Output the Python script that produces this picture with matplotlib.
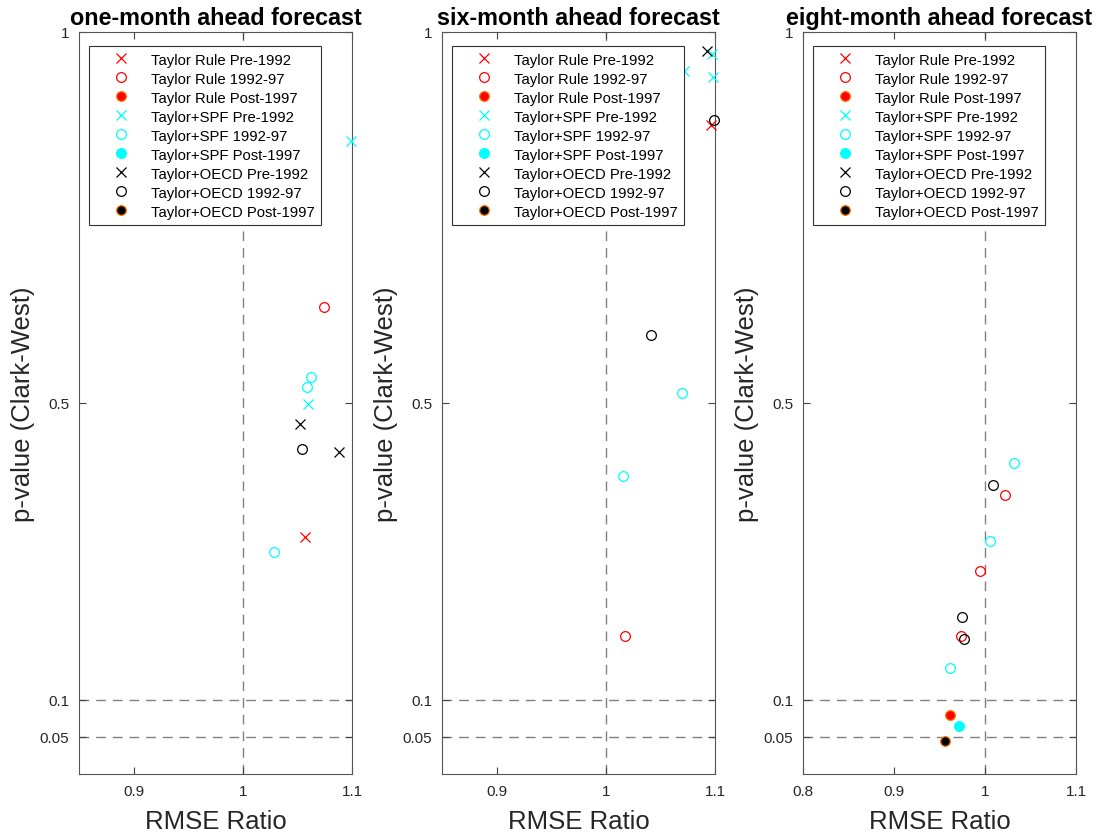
import matplotlib
matplotlib.use("Agg")
import matplotlib.pyplot as plt

plt.rcParams['font.family'] = ['Liberation Sans', 'DejaVu Sans']

# ---------------- data ----------------
titles = ["one-month ahead forecast", "six-month ahead forecast", "eight-month ahead forecast"]
series_labels = ["Taylor Rule Pre-1992", "Taylor Rule 1992-97", "Taylor Rule Post-1997",
                 "Taylor+SPF Pre-1992", "Taylor+SPF 1992-97", "Taylor+SPF Post-1997",
                 "Taylor+OECD Pre-1992", "Taylor+OECD 1992-97", "Taylor+OECD Post-1997"]

# Panel 1: one-month ahead
p1_tr_pre_x = [1.057]; p1_tr_pre_y = [0.320]
p1_tr_mid_x = [1.074]; p1_tr_mid_y = [0.629]
p1_tr_post_x = []; p1_tr_post_y = []
p1_spf_pre_x = [1.099, 1.060]; p1_spf_pre_y = [0.853, 0.499]
p1_spf_mid_x = [1.062, 1.059, 1.029]; p1_spf_mid_y = [0.535, 0.521, 0.299]
p1_spf_post_x = []; p1_spf_post_y = []
p1_oecd_pre_x = [1.052, 1.088]; p1_oecd_pre_y = [0.472, 0.434]
p1_oecd_mid_x = [1.054]; p1_oecd_mid_y = [0.438]
p1_oecd_post_x = []; p1_oecd_post_y = []

# Panel 2: six-month ahead
p2_tr_pre_x = [1.096]; p2_tr_pre_y = [0.875]
p2_tr_mid_x = [1.018]; p2_tr_mid_y = [0.186]
p2_tr_post_x = []; p2_tr_post_y = []
p2_spf_pre_x = [1.097, 1.072, 1.098]; p2_spf_pre_y = [0.970, 0.948, 0.940]
p2_spf_mid_x = [1.070, 1.016]; p2_spf_mid_y = [0.514, 0.401]
p2_spf_post_x = []; p2_spf_post_y = []
p2_oecd_pre_x = [1.093]; p2_oecd_pre_y = [0.974]
p2_oecd_mid_x = [1.099, 1.041]; p2_oecd_mid_y = [0.882, 0.592]
p2_oecd_post_x = []; p2_oecd_post_y = []

# Panel 3: eight-month ahead
p3_tr_pre_x = []; p3_tr_pre_y = []
p3_tr_mid_x = [1.022, 0.994, 0.974]; p3_tr_mid_y = [0.376, 0.273, 0.186]
p3_tr_post_x = [0.962]; p3_tr_post_y = [0.079]
p3_spf_pre_x = []; p3_spf_pre_y = []
p3_spf_mid_x = [1.032, 1.005, 0.962]; p3_spf_mid_y = [0.419, 0.314, 0.143]
p3_spf_post_x = [0.971]; p3_spf_post_y = [0.065]
p3_oecd_pre_x = []; p3_oecd_pre_y = []
p3_oecd_mid_x = [1.009, 0.975, 0.977]; p3_oecd_mid_y = [0.390, 0.211, 0.182]
p3_oecd_post_x = [0.956]; p3_oecd_post_y = [0.044]

panels = [
    [(p1_tr_pre_x, p1_tr_pre_y), (p1_tr_mid_x, p1_tr_mid_y), (p1_tr_post_x, p1_tr_post_y),
     (p1_spf_pre_x, p1_spf_pre_y), (p1_spf_mid_x, p1_spf_mid_y), (p1_spf_post_x, p1_spf_post_y),
     (p1_oecd_pre_x, p1_oecd_pre_y), (p1_oecd_mid_x, p1_oecd_mid_y), (p1_oecd_post_x, p1_oecd_post_y)],
    [(p2_tr_pre_x, p2_tr_pre_y), (p2_tr_mid_x, p2_tr_mid_y), (p2_tr_post_x, p2_tr_post_y),
     (p2_spf_pre_x, p2_spf_pre_y), (p2_spf_mid_x, p2_spf_mid_y), (p2_spf_post_x, p2_spf_post_y),
     (p2_oecd_pre_x, p2_oecd_pre_y), (p2_oecd_mid_x, p2_oecd_mid_y), (p2_oecd_post_x, p2_oecd_post_y)],
    [(p3_tr_pre_x, p3_tr_pre_y), (p3_tr_mid_x, p3_tr_mid_y), (p3_tr_post_x, p3_tr_post_y),
     (p3_spf_pre_x, p3_spf_pre_y), (p3_spf_mid_x, p3_spf_mid_y), (p3_spf_post_x, p3_spf_post_y),
     (p3_oecd_pre_x, p3_oecd_pre_y), (p3_oecd_mid_x, p3_oecd_mid_y), (p3_oecd_post_x, p3_oecd_post_y)],
]

xlims = [(0.85, 1.1), (0.85, 1.1), (0.8, 1.1)]
xticks = [[0.9, 1.0, 1.1], [0.9, 1.0, 1.1], [0.8, 0.9, 1.0, 1.1]]
xticklabels = [["0.9", "1", "1.1"], ["0.9", "1", "1.1"], ["0.8", "0.9", "1", "1.1"]]
yticks = [0.05, 0.1, 0.5, 1.0]
yticklabels = ["0.05", "0.1", "0.5", "1"]

# ---------------- styles ----------------
RED = '#ff0000'
CYAN = '#00ffff'
BLK = '#000000'
ORANGE = '#ff7a00'
styles = [
    dict(marker='x', mfc='none', mec=RED),
    dict(marker='o', mfc='none', mec=RED),
    dict(marker='o', mfc=RED, mec=ORANGE),
    dict(marker='x', mfc='none', mec=CYAN),
    dict(marker='o', mfc='none', mec=CYAN),
    dict(marker='o', mfc=CYAN, mec=CYAN),
    dict(marker='x', mfc='none', mec=BLK),
    dict(marker='o', mfc='none', mec=BLK),
    dict(marker='o', mfc=BLK, mec=ORANGE),
]

fig = plt.figure(figsize=(11.05, 8.37), dpi=100)
W, H = 1105, 837
lefts = [79, 442, 803]
ax_w = 273
top_px, bot_px = 33, 775
ax_h = bot_px - top_px

for i in range(3):
    ax = fig.add_axes([lefts[i] / W, (H - bot_px) / H, ax_w / W, ax_h / H])
    ax.axvline(1.0, color='#808080', lw=1.0, dashes=(7, 5), zorder=1)
    ax.axhline(0.1, color='#808080', lw=1.0, dashes=(7, 5), zorder=1)
    ax.axhline(0.05, color='#808080', lw=1.0, dashes=(7, 5), zorder=1)
    for (xs, ys), st, lab in zip(panels[i], styles, series_labels):
        ax.plot(xs, ys, linestyle='none', marker=st['marker'], markersize=7,
                markerfacecolor=st['mfc'], markeredgecolor=st['mec'],
                markeredgewidth=0.9, label=lab, zorder=3, clip_on=False)
    ax.set_xlim(*xlims[i])
    ax.set_ylim(0, 1)
    ax.set_xticks(xticks[i])
    ax.set_xticklabels(xticklabels[i])
    ax.set_yticks(yticks)
    ax.set_yticklabels(yticklabels)
    ax.tick_params(direction='in', top=True, right=True, length=5, width=0.8,
                   color='#444444', labelcolor='#262626', labelsize=11, pad=7)
    for sp in ax.spines.values():
        sp.set_color('#555555')
        sp.set_linewidth(0.8)
    ax.set_title(titles[i], fontsize=16.8, fontweight='bold', pad=6)
    ax.set_xlabel("RMSE Ratio", fontsize=18.5, color='#262626', labelpad=8)
    ax.set_ylabel("p-value (Clark-West)", fontsize=18.5, color='#262626')
    ax.yaxis.set_label_coords(-44 / ax_w, 0.5)
    leg = ax.legend(loc='upper left', bbox_to_anchor=(10 / ax_w, 1 - 14 / ax_h),
                    borderaxespad=0, fontsize=10.7, frameon=True, fancybox=False,
                    framealpha=1, edgecolor='#333333', handlelength=3.4,
                    handletextpad=0.32, labelspacing=0.335, borderpad=0.45,
                    numpoints=1)
    leg.get_frame().set_linewidth(0.8)
    leg.set_zorder(5)

fig.savefig("out.png", dpi=100)
